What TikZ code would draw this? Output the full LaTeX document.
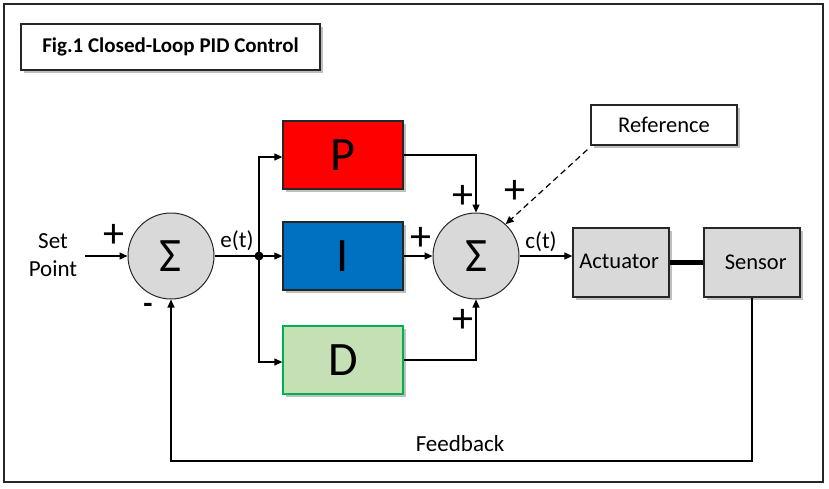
\documentclass[tikz,border=0pt]{standalone}
\usepackage{fontspec}
\setmainfont{Carlito}
\usetikzlibrary{arrows.meta,shadows}
\definecolor{pred}{HTML}{FF0000}
\definecolor{iblue}{HTML}{0070C0}
\definecolor{dgreen}{HTML}{C5E0B4}
\definecolor{dgreenb}{HTML}{00B050}
\definecolor{gbox}{HTML}{D9D9D9}
\definecolor{edge}{HTML}{262626}
\begin{document}
\begin{tikzpicture}[x=1pt,y=-1pt,
  shad/.style={drop shadow={shadow xshift=2.5pt,shadow yshift=-2.5pt,opacity=0.25,fill=black}},
  blk/.style={draw=edge,line width=1.3pt,minimum width=120pt,minimum height=68pt,inner sep=0pt,shad,font=\fontsize{48}{50}\selectfont},
  gblk/.style={draw=edge,line width=1.3pt,fill=gbox,minimum width=96pt,minimum height=69pt,inner sep=0pt,shad,font=\fontsize{22.5}{24}\selectfont},
  sumc/.style={circle,draw=edge,line width=1pt,fill=gbox,minimum size=86pt,inner sep=0pt,font=\fontsize{48}{50}\selectfont},
  lbl/.style={inner sep=0pt,font=\fontsize{23}{26}\selectfont},
  sgn/.style={inner sep=0pt,font=\fontsize{42}{42}\selectfont},
  arr/.style={line width=1.2pt,-{Triangle[length=8pt,width=7pt]}},
  ln/.style={line width=1.2pt}]
\useasboundingbox (0,0) rectangle (829,488);
\draw[edge,line width=1.5pt] (4,4) rectangle (823,482);
% title
\node[draw=edge,line width=1.3pt,fill=white,minimum width=299pt,minimum height=46pt,inner sep=0pt,shad,font=\fontsize{21}{24}\selectfont\bfseries] (title) at (170.5,47) {Fig.1 Closed-Loop PID Control};
% blocks
\node[blk,fill=pred] (P) at (343,155) {P};
\node[blk,fill=iblue] (I) at (343,256) {I};
\node[blk,fill=dgreen,draw=dgreenb] (D) at (343,360) {D};
\node[sumc] (s1) at (171,256) {Σ};
\node[sumc] (s2) at (476,256) {Σ};
\node[gblk] (act) at (621,262.5) {\raisebox{3pt}{Actuator}\,};
\node[gblk] (sen) at (752,262.5) {\,\,Sensor};
\node[draw=edge,line width=1.3pt,fill=white,minimum width=146pt,minimum height=40pt,inner sep=0pt,shad,font=\fontsize{22.5}{24}\selectfont] (ref) at (664,125) {Reference};
% labels
\node[lbl,align=center,font=\fontsize{23}{28}\selectfont] (sp) at (53,255) {Set\\Point};
\coordinate (spend) at (85,256);
\node[lbl] (et) at (237,241) {e(t)};
\node[lbl] (ct) at (541,242) {c(t)};
\node[lbl] (fb) at (460,444) {Feedback};
\node[sgn] (p1) at (114,236) {+};
\node[sgn,font=\fontsize{30}{30}\selectfont\bfseries] (m1) at (148,308) {-};
\node[sgn] (p2) at (463,197) {+};
\node[sgn] (p3) at (515,192) {+};
\node[sgn] (p4) at (421,239) {+};
\node[sgn] (p5) at (463,321) {+};
% connectors
\coordinate (j) at (259,256);
\coordinate (fbc) at (0,461);
\draw[arr] (spend) -- (s1.west);
\draw[ln] (s1.east) -- (j);
\draw[arr] (j) |- ([yshift=-2pt]P.west);
\draw[arr] (j) -- (I.west);
\draw[arr] (j) |- ([yshift=-2pt]D.west);
\fill (j) circle (4.5);
\draw[arr] (P.east) -| (s2.north);
\draw[arr] (I.east) -- (s2.west);
\draw[arr] (D.east) -| (s2.south);
\draw[arr] (s2.east) -- (s2.east -| act.west);
\draw[line width=5pt] (act.east) -- (sen.west);
\draw[arr] (sen.south) -- (sen.south |- fbc) -| (s1.south);
\draw[line width=1.2pt,dashed,dash pattern=on 6pt off 4pt,-{Triangle[length=8pt,width=7pt]}] ([xshift=-3pt,yshift=-4pt]ref.south west) -- (s2.47);
\end{tikzpicture}
\end{document}
